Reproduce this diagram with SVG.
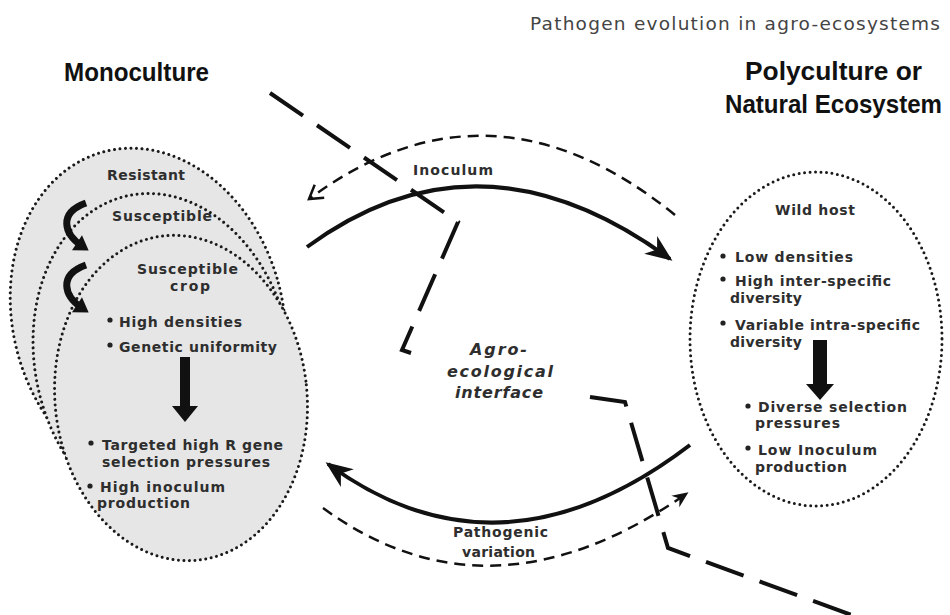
<svg xmlns="http://www.w3.org/2000/svg" width="950" height="615" viewBox="0 0 950 615">
<style>
.t{font-family:"DejaVu Sans","Liberation Sans",sans-serif;font-weight:bold;font-size:14px;fill:#2e2e2e}
.ti{font-family:"DejaVu Sans","Liberation Sans",sans-serif;font-weight:bold;font-style:italic;font-size:16px;fill:#2e2e2e}
.h{font-family:"Liberation Sans Narrow","Liberation Sans",sans-serif;font-weight:bold;font-size:25px;fill:#111}
.cap{font-family:"DejaVu Sans","Liberation Sans",sans-serif;font-size:18.5px;fill:#444}
.dot{stroke:#1a1a1a;stroke-width:3;stroke-dasharray:0 5.5;stroke-linecap:round}
.gray{fill:#e6e6e6}
.solid{fill:none;stroke:#111;stroke-width:4}
.dash{fill:none;stroke:#111;stroke-width:2.5;stroke-dasharray:11 7}
.iface{fill:none;stroke:#111;stroke-width:4;stroke-dasharray:40 17}
.curl{fill:none;stroke:#111;stroke-width:7}
.bul{fill:#222}
</style>
<defs>
<marker id="mBig" markerUnits="userSpaceOnUse" markerWidth="30" markerHeight="26" viewBox="-26 -13 30 26" refX="0" refY="0" orient="auto"><path d="M3,0 L-24,-11 L-16,0 L-24,11 Z" fill="#111"/></marker>
<marker id="mV" markerUnits="userSpaceOnUse" markerWidth="20" markerHeight="20" viewBox="-16 -10 20 20" refX="0" refY="0" orient="auto"><path d="M-13,-8 L0,0 L-13,8" fill="none" stroke="#111" stroke-width="2.5"/></marker>
<marker id="mSm" markerUnits="userSpaceOnUse" markerWidth="20" markerHeight="18" viewBox="-16 -9 20 18" refX="0" refY="0" orient="auto"><path d="M3,0 L-13,-7 L-8,0 L-13,7 Z" fill="#111"/></marker>
<marker id="mCurl" markerUnits="userSpaceOnUse" markerWidth="20" markerHeight="20" viewBox="-10 -10 20 20" refX="0" refY="0" orient="auto"><path d="M8,0 L-6,-9 L-6,9 Z" fill="#111"/></marker>
</defs>
<rect width="950" height="615" fill="#fff"/>

<text class="cap" x="530" y="30" textLength="410">Pathogen evolution in agro-ecosystems</text>
<text class="h" x="64" y="81" textLength="145" lengthAdjust="spacingAndGlyphs">Monoculture</text>
<text class="h" x="745" y="80" textLength="177" lengthAdjust="spacingAndGlyphs">Polyculture or</text>
<text class="h" x="725" y="113" textLength="217" lengthAdjust="spacingAndGlyphs">Natural Ecosystem</text>

<g id="monoculture">
<ellipse class="gray dot" cx="148" cy="318" rx="135" ry="172" transform="rotate(-15 148 318)"/>
<ellipse class="gray dot" cx="163" cy="360" rx="128" ry="168" transform="rotate(-12 163 360)"/>
<ellipse class="gray dot" cx="181" cy="398" rx="126" ry="163" transform="rotate(-6 181 398)"/>
<text class="t" x="107" y="180" textLength="78">Resistant</text>
<text class="t" x="112" y="221" textLength="100">Susceptible</text>
<text class="t" x="137" y="274" textLength="101">Susceptible</text>
<text class="t" x="170" y="291" textLength="40">crop</text>
<circle class="bul" cx="110" cy="320" r="2.6"/>
<text class="t" x="119" y="327" textLength="123">High densities</text>
<circle class="bul" cx="110" cy="345" r="2.6"/>
<text class="t" x="119" y="352" textLength="158">Genetic uniformity</text>
<polygon points="180,357 190,357 190,406 198,406 185,422 172,406 180,406" fill="#111"/>
<circle class="bul" cx="91" cy="443" r="2.6"/>
<text class="t" x="102" y="450" textLength="181">Targeted high R gene</text>
<text class="t" x="102" y="467" textLength="168">selection pressures</text>
<circle class="bul" cx="90" cy="486" r="2.6"/>
<text class="t" x="100" y="492" textLength="125">High inoculum</text>
<text class="t" x="97" y="508" textLength="93">production</text>
<path class="curl" d="M86,203 C58,213 64,234 82,246" marker-end="url(#mCurl)"/>
<path class="curl" d="M86,265 C58,275 64,296 82,308" marker-end="url(#mCurl)"/>
</g>

<g id="wild-host">
<ellipse class="dot" cx="816" cy="339" rx="126" ry="167" fill="#fff"/>
<text class="t" x="775" y="215" textLength="80">Wild host</text>
<circle class="bul" cx="723" cy="256" r="2.6"/>
<text class="t" x="735" y="262" textLength="118">Low densities</text>
<circle class="bul" cx="723" cy="279" r="2.6"/>
<text class="t" x="735" y="286" textLength="156">High inter-specific</text>
<text class="t" x="730" y="303" textLength="72">diversity</text>
<circle class="bul" cx="723" cy="323" r="2.6"/>
<text class="t" x="735" y="330" textLength="185">Variable intra-specific</text>
<text class="t" x="730" y="347" textLength="72">diversity</text>
<polygon points="813,340 827,340 827,384 834,384 820,400 806,384 813,384" fill="#111"/>
<circle class="bul" cx="748" cy="406" r="2.6"/>
<text class="t" x="758" y="412" textLength="149">Diverse selection</text>
<text class="t" x="755" y="428" textLength="85">pressures</text>
<circle class="bul" cx="748" cy="448" r="2.6"/>
<text class="t" x="758" y="455" textLength="119">Low Inoculum</text>
<text class="t" x="755" y="472" textLength="92">production</text>
</g>

<g id="interface">
<path class="iface" d="M270,93 L458,222 L402,350 L411,353"/>
<path class="iface" d="M590,397 L625,402 L668,548 L920,640"/>
<text class="ti" x="470" y="355" textLength="57">Agro-</text>
<text class="ti" x="447" y="377" textLength="106">ecological</text>
<text class="ti" x="455" y="398" textLength="88">interface</text>
</g>

<g id="connectors">
<path class="solid" d="M307,247 Q480,120 670,259" marker-end="url(#mBig)"/>
<path class="dash" d="M675,215 Q490,65 309,199" marker-end="url(#mV)"/>
<text class="t" x="413" y="175" textLength="80">Inoculum</text>
<path class="solid" d="M690,445 Q500,590 328,464" marker-end="url(#mBig)"/>
<path class="dash" d="M323,508 Q490,630 686,494" marker-end="url(#mSm)"/>
<text class="t" x="453" y="537" textLength="95">Pathogenic</text>
<text class="t" x="462" y="557" textLength="73">variation</text>
</g>
</svg>
